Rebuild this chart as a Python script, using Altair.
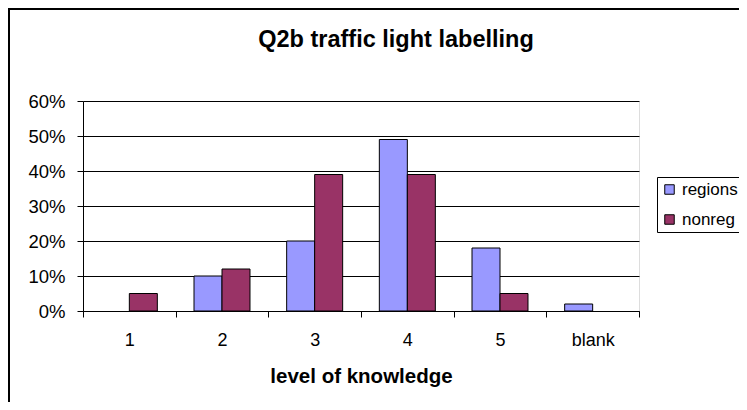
import altair as alt
import pandas as pd

categories = ["1", "2", "3", "4", "5", "blank"]
series = ["regions", "nonreg"]
regions = [0.00, 0.10, 0.20, 0.49, 0.18, 0.02]
nonreg = [0.05, 0.12, 0.39, 0.39, 0.05, 0.00]
colors = ["#9999FF", "#993366"]
y_ticks = [0, 0.1, 0.2, 0.3, 0.4, 0.5, 0.6]

rows = []
for c, r, n in zip(categories, regions, nonreg):
    rows.append({"level": c, "series": "regions", "value": r})
    rows.append({"level": c, "series": "nonreg", "value": n})
df = pd.DataFrame(rows)

FONT = "Liberation Sans"

bars = alt.Chart(df).transform_filter(
    alt.datum.value > 0
).mark_bar(stroke="black", strokeWidth=1).encode(
    x=alt.X(
        "level:N",
        sort=categories,
        scale=alt.Scale(domain=categories, paddingInner=0, paddingOuter=0),
        axis=alt.Axis(
            title="level of knowledge",
            labelAngle=0,
            labelFontSize=18,
            labelFont=FONT,
            labelColor="black",
            labelPadding=14,
            tickSize=6,
            tickBand="extent",
            tickColor="black",
            domainColor="black",
            titleFont=FONT,
            titleFontSize=20.5,
            titleFontWeight="bold",
            titleColor="black",
            titlePadding=17,
            grid=False,
        ),
    ),
    xOffset=alt.XOffset(
        "series:N",
        sort=series,
        scale=alt.Scale(domain=series, paddingInner=0, paddingOuter=0.655),
    ),
    y=alt.Y(
        "value:Q",
        scale=alt.Scale(domain=[0, 0.6], nice=False),
        axis=alt.Axis(
            title=None,
            values=y_ticks,
            format=".0%",
            labelFontSize=18.5,
            labelFont=FONT,
            labelColor="black",
            labelPadding=12,
            tickSize=6,
            tickColor="black",
            domainColor="black",
            grid=True,
            gridColor="black",
            gridWidth=1,
        ),
    ),
    color=alt.Color(
        "series:N",
        sort=series,
        scale=alt.Scale(domain=series, range=colors),
        legend=alt.Legend(
            title=None,
            orient="none",
            legendX=574,
            legendY=76,
            fillColor="white",
            strokeColor="black",
            padding=4,
            symbolType="square",
            symbolSize=90,
            symbolStrokeColor="black",
            symbolStrokeWidth=1,
            symbolOpacity=1,
            labelFontSize=17,
            labelFont=FONT,
            labelColor="black",
            labelOffset=4,
            rowPadding=12,
        ),
    ),
)

frame = alt.Chart(pd.DataFrame({"a": [0]})).mark_rect(
    fillOpacity=0, stroke="black", strokeWidth=2
).encode(
    x=alt.value(-74),
    x2=alt.value(900),
    y=alt.value(-92),
    y2=alt.value(600),
)

chart = alt.layer(bars, frame).properties(
    width=556,
    height=210,
    padding={"left": 75, "top": 93, "right": 100, "bottom": 91},
    autosize=alt.AutoSizeParams(type="none"),
    title=alt.TitleParams(
        "Q2b traffic light labelling",
        font=FONT,
        fontSize=23.5,
        fontWeight="bold",
        color="black",
        anchor="middle",
        frame="group",
        dx=35,
        offset=-62,
        baseline="alphabetic",
    ),
).configure_view(
    fill="#C0C0C0",
    stroke="#808080",
    strokeWidth=1,
).configure(background="white")

chart.save("out.html", embed_options={"renderer": "svg", "actions": False})
